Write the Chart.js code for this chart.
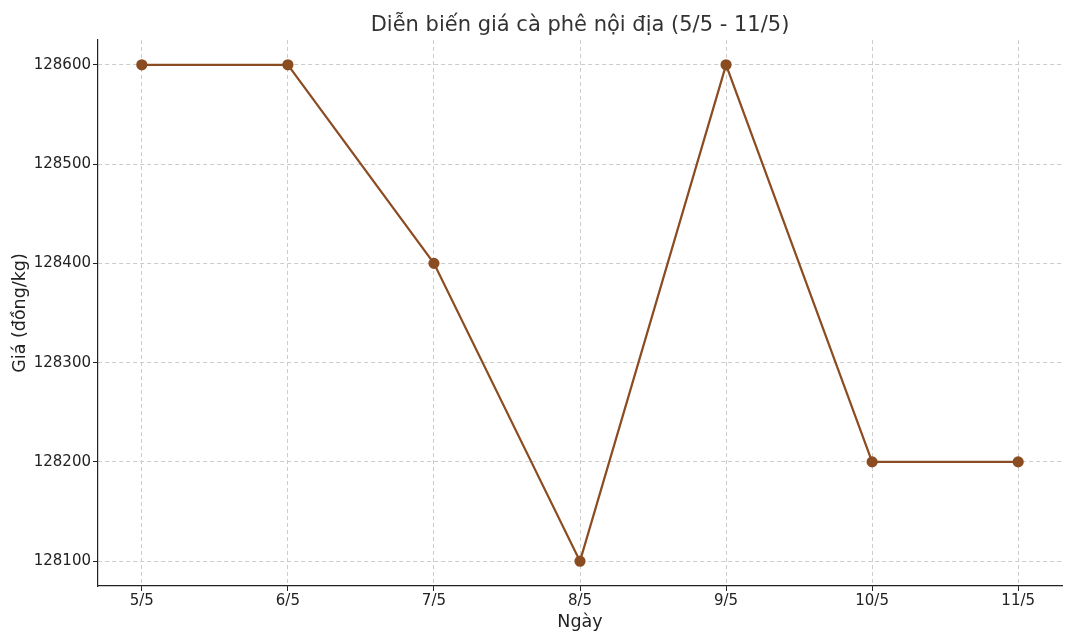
<!DOCTYPE html>
<html>
<head>
<meta charset="utf-8">
<script src="https://cdn.jsdelivr.net/npm/chart.js@4/dist/chart.umd.min.js"></script>
<style>
  html, body { margin: 0; padding: 0; background: #fff; }
  #wrap { width: 1074px; height: 636px; }
</style>
</head>
<body>
<div id="wrap"><canvas id="chart"></canvas></div>
<script>
// dữ liệu giá cà phê
const ngay = ["5/5", "6/5", "7/5", "8/5", "9/5", "10/5", "11/5"];
const gia = [128600, 128600, 128400, 128100, 128600, 128200, 128200];
const tieuDe = 'Diễn biến giá cà phê nội địa (5/5 - 11/5)';

const mau = "#8b4c22";
const font = "'DejaVu Sans', sans-serif";

// tiêu đề căn giữa theo vùng vẽ (giống matplotlib)
const tieuDePlugin = {
  id: 'tieuDe',
  afterDraw(chart) {
    const { ctx, chartArea } = chart;
    ctx.save();
    ctx.font = "21px " + font;
    ctx.fillStyle = '#333';
    ctx.textAlign = 'center';
    ctx.textBaseline = 'middle';
    ctx.fillText(tieuDe, (chartArea.left + chartArea.right) / 2, 26);
    ctx.restore();
  }
};

new Chart(document.getElementById("chart"), {
  type: 'line',
  data: {
    datasets: [{
      label: "Giá",
      data: gia.map((v, i) => ({ x: i, y: v })),
      borderColor: mau,
      backgroundColor: mau,
      borderWidth: 2.2,
      pointRadius: 4.5,
      pointHoverRadius: 4.5,
      tension: 0
    }]
  },
  plugins: [tieuDePlugin],
  options: {
    responsive: true,
    maintainAspectRatio: false,
    animation: false,
    layout: { padding: { left: 0, right: 12, top: 40, bottom: 3 } },
    plugins: {
      legend: { display: false },
      tooltip: { enabled: false },
      title: { display: false }
    },
    scales: {
      x: {
        type: 'linear',
        min: -0.3,
        max: 6.3,
        afterBuildTicks: s => { s.ticks = ngay.map((_, i) => ({ value: i })); },
        afterFit: s => { s.height = 47; },
        ticks: {
          callback: v => ngay[v],
          color: '#222',
          font: { family: font, size: 15 },
          padding: 1,
          maxRotation: 0
        },
        grid: { color: '#cccccc', lineWidth: 1, tickLength: 5, tickColor: '#222' },
        border: { display: true, color: '#222', width: 1.2, dash: [4, 3] },
        title: {
          display: true,
          text: 'Ngày',
          color: '#222',
          font: { family: font, size: 17.5 },
          padding: { top: 0, bottom: 0 }
        }
      },
      y: {
        min: 128075,
        max: 128625,
        afterBuildTicks: s => {
          s.ticks = [];
          for (let v = 128100; v <= 128600; v += 100) s.ticks.push({ value: v });
        },
        afterFit: s => { s.width = 98; },
        ticks: {
          callback: v => String(v),
          color: '#222',
          font: { family: font, size: 15 },
          padding: 2
        },
        grid: { color: '#cccccc', lineWidth: 1, tickLength: 5, tickColor: '#222' },
        border: { display: true, color: '#222', width: 1.2, dash: [4, 3] },
        title: {
          display: true,
          text: 'Giá (đồng/kg)',
          color: '#222',
          font: { family: font, size: 17.5 },
          padding: { top: 10, bottom: 0 }
        }
      }
    }
  }
});
</script>
</body>
</html>
